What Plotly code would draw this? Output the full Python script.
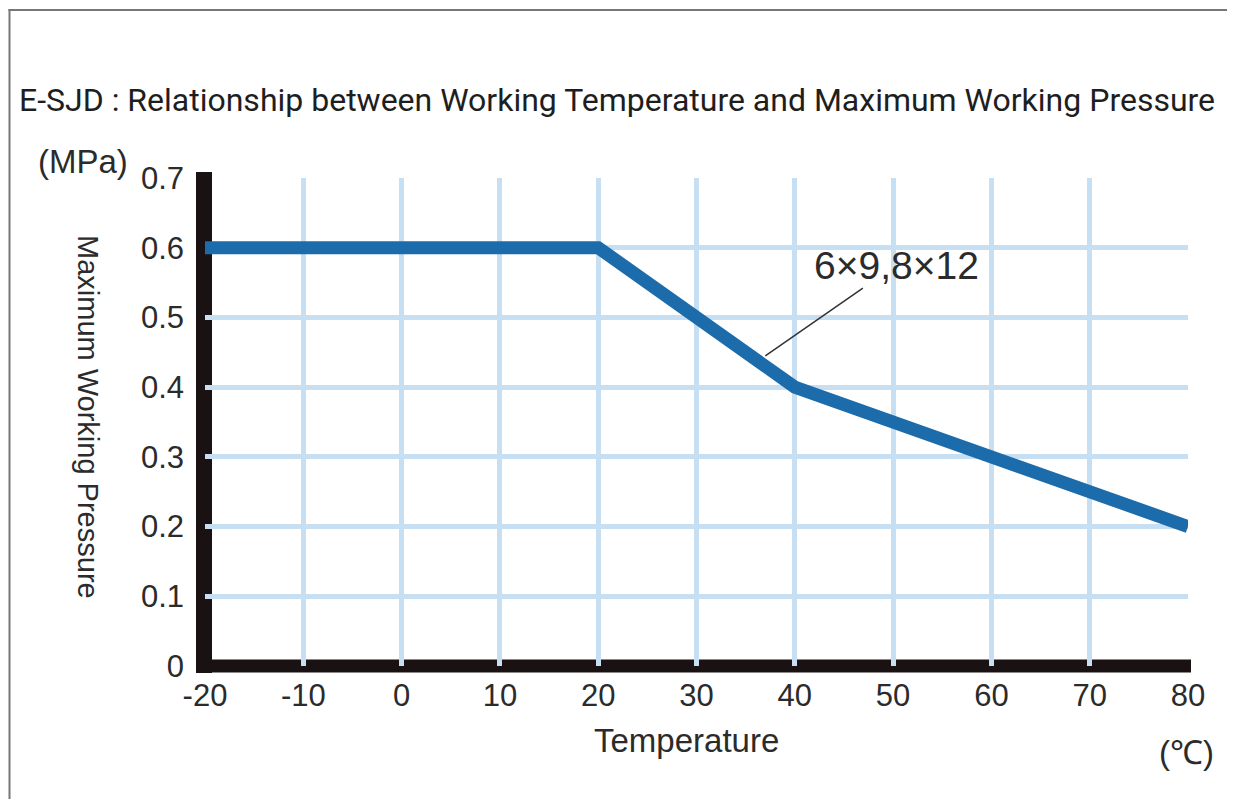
import plotly.graph_objects as go

# Data
temperature = [-20, 20, 40, 50, 60, 70, 80]
pressure = [0.6, 0.6, 0.4, 0.35, 0.3, 0.25, 0.2]
x_ticks = [-20, -10, 0, 10, 20, 30, 40, 50, 60, 70, 80]
y_ticks = [0, 0.1, 0.2, 0.3, 0.4, 0.5, 0.6, 0.7]
y_tick_labels = ["0", "0.1", "0.2", "0.3", "0.4", "0.5", "0.6", "0.7"]
series_label = "6×9,8×12"

# page body has an 8px margin; work in screen pixels and convert
OFF = 8
W, H = 1235 - 2 * OFF, 807 - 2 * OFF   # keep the page inside the window (no scrollbars)
PL, PR, PT, PB = 205, 1188, 178, 666  # plot area in screen pixels
ML, MT = PL - OFF, PT - OFF
MR = W - (PR - OFF)
MB = H - (PB - OFF)
PW, PH = PR - PL, PB - PT

def px_x(p):
    return (p - PL) / PW

def px_y(p):
    return (PB - p) / PH

FONT = "Liberation Sans, Arial, sans-serif"
TXT = "#2b2b2b"
GRID = "#c6dff3"
BLUE = "#1c6cab"

fig = go.Figure()
fig.add_trace(go.Scatter(
    x=temperature, y=pressure, mode="lines",
    line=dict(color=BLUE, width=13),
    showlegend=False, hoverinfo="x+y",
))

fig.update_layout(
    width=W, height=H,
    margin=dict(l=ML, r=MR, t=MT, b=MB),
    paper_bgcolor="white", plot_bgcolor="white",
    font=dict(family=FONT, color=TXT),
    showlegend=False,
    xaxis=dict(
        range=[-20, 80], tickvals=x_ticks, ticktext=[str(v) for v in x_ticks],
        showgrid=True, gridcolor=GRID, gridwidth=5, zeroline=False,
        showline=False, ticks="", ticklabelstandoff=8,
        tickfont=dict(size=31, color=TXT, family=FONT),
        fixedrange=True,
    ),
    yaxis=dict(
        range=[0, 0.7], tickvals=y_ticks, ticktext=y_tick_labels,
        showgrid=True, gridcolor=GRID, gridwidth=5, zeroline=False,
        showline=False, ticks="", ticklabelstandoff=20,
        tickfont=dict(size=31, color=TXT, family=FONT),
        fixedrange=True,
    ),
)

shapes = [
    # outer gray frame (top and left edges only; the rest lies outside the picture)
    dict(type="line", xref="paper", yref="paper",
         x0=px_x(8.5), x1=px_x(1300), y0=px_y(10), y1=px_y(10),
         line=dict(color="#777777", width=2), layer="below"),
    dict(type="line", xref="paper", yref="paper",
         x0=px_x(9.5), x1=px_x(9.5), y0=px_y(9), y1=px_y(900),
         line=dict(color="#777777", width=2), layer="below"),
    # black left axis
    dict(type="line", xref="paper", yref="paper",
         x0=px_x(204), x1=px_x(204), y0=px_y(673), y1=px_y(172),
         line=dict(color="#1a1212", width=16), layer="between"),
    # black bottom axis
    dict(type="line", xref="paper", yref="paper",
         x0=px_x(196), x1=px_x(1191), y0=px_y(666), y1=px_y(666),
         line=dict(color="#1a1212", width=13), layer="between"),
]
fig.update_layout(shapes=shapes)

annotations = [
    dict(text="E-SJD : Relationship between Working Temperature and Maximum Working Pressure",
         xref="paper", yref="paper", x=px_x(17), y=px_y(100), xanchor="left", yanchor="middle",
         showarrow=False, font=dict(family="Roboto, sans-serif", size=32, color="#1e1e1e")),
    dict(text="(MPa)", xref="paper", yref="paper", x=px_x(36), y=px_y(162),
         xanchor="left", yanchor="middle", showarrow=False,
         font=dict(size=33, color=TXT, family=FONT)),
    dict(text="Maximum Working Pressure", xref="paper", yref="paper",
         x=px_x(88), y=px_y(417), xanchor="center", yanchor="middle",
         textangle=90, showarrow=False, font=dict(size=29, color=TXT, family=FONT)),
    dict(text="Temperature", xref="paper", yref="paper", x=px_x(686), y=px_y(740),
         xanchor="center", yanchor="middle", showarrow=False,
         font=dict(size=33, color=TXT, family=FONT)),
    dict(text="(℃)", xref="paper", yref="paper", x=px_x(1186), y=px_y(752),
         xanchor="center", yanchor="middle", showarrow=False,
         font=dict(size=33, color=TXT, family=FONT)),
    dict(text=series_label, ax=50.3, ay=0.575, axref="x", ayref="y",
         x=37.0, y=0.445, xref="x", yref="y",
         showarrow=True, arrowhead=0, arrowwidth=1.5, arrowcolor="#333333",
         standoff=0, startstandoff=0,
         font=dict(size=39, color=TXT, family=FONT)),
]
fig.update_layout(annotations=annotations)

fig.write_html("out.html")
